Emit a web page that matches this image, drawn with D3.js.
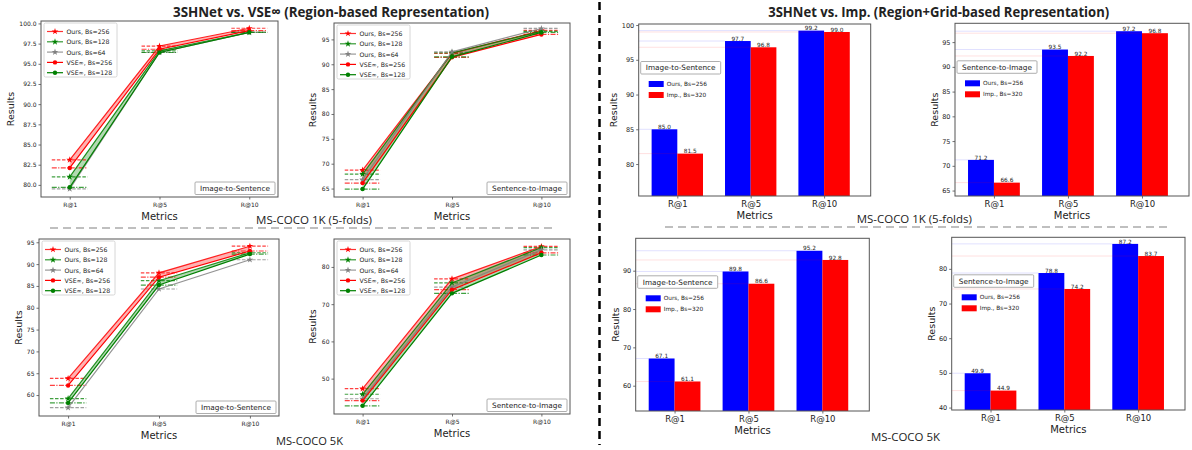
<!DOCTYPE html>
<html>
<head>
<meta charset="utf-8">
<script src="https://cdn.jsdelivr.net/npm/d3@7"></script>
<style>
  body { margin: 0; background: #fff; }
  text { font-family: "DejaVu Sans", sans-serif; fill: #222; }
  .ttl { font-family: "Open Sans", sans-serif; }
</style>
</head>
<body>
<svg id="fig" width="1192" height="450"></svg>
<script>
// ---- data ----
var metrics = ["R@1", "R@5", "R@10"];
var lineNames = ["Ours, Bs=256", "Ours, Bs=128", "Ours, Bs=64", "VSE\u221e, Bs=256", "VSE\u221e, Bs=128"];
var barNames = ["Ours, Bs=256", "Imp., Bs=320"];

// rows follow lineNames order
var lineI2S1k = [[83.1, 97.2, 99.4], [81.0, 96.6, 98.9], [79.5, 96.4, 98.9], [82.1, 96.8, 99.1], [79.7, 96.4, 98.9]];
var lineS2I1k = [[68.7, 92.2, 96.8], [67.9, 92.3, 96.6], [66.8, 92.5, 97.2], [66.1, 91.4, 96.0], [64.9, 91.5, 96.4]];
var lineI2S5k = [[63.8, 88.0, 94.1], [59.2, 86.2, 92.6], [57.1, 84.3, 91.0], [62.2, 87.0, 93.0], [58.2, 85.2, 92.3]];
var lineS2I5k = [[47.3, 76.8, 85.5], [45.8, 75.7, 85.2], [44.6, 74.6, 84.6], [44.1, 73.9, 83.8], [42.7, 72.9, 83.2]];

// rows follow barNames order
var barI2S1k = [[85.0, 97.7, 99.2], [81.5, 96.8, 99.0]];
var barS2I1k = [[71.2, 93.5, 97.2], [66.6, 92.2, 96.8]];
var barI2S5k = [[67.1, 89.8, 95.2], [61.1, 86.6, 92.8]];
var barS2I5k = [[49.9, 78.8, 87.2], [44.9, 74.2, 83.7]];

var ticksI2S1k = [80, 82.5, 85, 87.5, 90, 92.5, 95, 97.5, 100];
var ticksS2I1k = [65, 70, 75, 80, 85, 90, 95];
var ticksI2S5k = [60, 65, 70, 75, 80, 85, 90, 95];
var ticksS2I5k = [50, 60, 70, 80];
var ticksBarI2S1k = [80, 85, 90, 95, 100];
var ticksBarS2I1k = [65, 70, 75, 80, 85, 90, 95];
var ticksBarI2S5k = [60, 70, 80, 90];
var ticksBarS2I5k = [40, 50, 60, 70, 80];

// ---- styles ----
var lineColors = ["#ff0000", "#008000", "#808080", "#ff0000", "#008000"];
var barColors = ["#0000ff", "#ff0000"];

var svg = d3.select("#fig");

// shared axis drawing
function drawAxes(g, x, y, box, yTicks, yFmt, ytSize, xtSize, xtOff) {
  var ya = g.append("g").attr("transform", "translate(" + box.x0 + ",0)")
    .call(d3.axisLeft(y).tickValues(yTicks).tickFormat(yFmt).tickSize(2.5).tickPadding(2));
  ya.select(".domain").remove();
  ya.selectAll("line").attr("stroke", "#333").attr("stroke-width", 0.7);
  ya.selectAll("text").style("font-size", ytSize + "px").attr("fill", "#222");

  var xa = g.append("g").attr("transform", "translate(0," + box.y1 + ")")
    .call(d3.axisBottom(x).tickValues([0, 1, 2]).tickFormat(function(i) { return metrics[i]; })
      .tickSize(2.5).tickPadding(xtOff));
  xa.select(".domain").remove();
  xa.selectAll("line").attr("stroke", "#333").attr("stroke-width", 0.7);
  xa.selectAll("text").style("font-size", xtSize + "px").attr("fill", "#222");

  g.append("rect")
    .attr("x", box.x0).attr("y", box.y0)
    .attr("width", box.x1 - box.x0).attr("height", box.y1 - box.y0)
    .attr("fill", "none").attr("stroke", "#555").attr("stroke-width", 1);

  g.append("text")
    .attr("transform", "translate(" + box.ylab + "," + ((box.y0 + box.y1) / 2) + ") rotate(-90)")
    .attr("text-anchor", "middle").attr("dominant-baseline", "central")
    .style("font-size", "9.5px").text("Results");
  g.append("text")
    .attr("x", (box.x0 + box.x1) / 2).attr("y", box.y1 + 22.5)
    .attr("text-anchor", "middle").style("font-size", "10px").text("Metrics");
}

function tagBox(g, bx, by, label) {
  g.append("rect").attr("x", bx).attr("y", by).attr("width", 80).attr("height", 12.5)
    .attr("fill", "#fff").attr("stroke", "#999").attr("stroke-width", 0.8).attr("rx", 1);
  g.append("text").attr("x", bx + 40).attr("y", by + 6.4)
    .attr("text-anchor", "middle").attr("dominant-baseline", "central")
    .style("font-size", "7.3px").text(label);
}

function starPath(size) { return d3.symbol().type(d3.symbolStar).size(size)(); }

// line panel: Ours vs VSE with shaded bands
function linePanel(box, data, yTicks, yFmt, label) {
  var g = svg.append("g");
  var x = d3.scaleLinear().domain([-0.32, 2.32]).range([box.x0, box.x1]);
  var y = d3.scaleLinear().domain(box.dom).range([box.y1, box.y0]);

  // bands between Ours and VSE of same batch size
  [[0, 3], [1, 4]].forEach(function(p) {
    var pts = [0, 1, 2].map(function(i) { return [data[p[0]][i], data[p[1]][i]]; });
    g.append("path").datum(pts)
      .attr("d", d3.area().x(function(d, i) { return x(i); })
        .y0(function(d) { return y(d[0]); }).y1(function(d) { return y(d[1]); }))
      .attr("fill", lineColors[p[0]]).attr("fill-opacity", 0.3);
  });

  // short reference dashes at every point
  data.forEach(function(s, k) {
    s.forEach(function(v, i) {
      g.append("line")
        .attr("x1", x(i - 0.2)).attr("x2", x(i + 0.2))
        .attr("y1", y(v)).attr("y2", y(v))
        .attr("stroke", lineColors[k]).attr("stroke-width", 1.2).attr("stroke-opacity", 0.75)
        .attr("stroke-dasharray", k < 3 ? "3.5,1.6" : "5,1.4,1.2,1.4");
    });
  });

  var line = d3.line().x(function(d, i) { return x(i); }).y(function(d) { return y(d); });
  data.forEach(function(s, k) {
    g.append("path").datum(s).attr("d", line)
      .attr("fill", "none").attr("stroke", lineColors[k]).attr("stroke-width", 1.2)
      .attr("stroke-opacity", k < 3 ? 0.85 : 1);
    s.forEach(function(v, i) {
      if (k < 3) {
        g.append("path").attr("d", starPath(14))
          .attr("transform", "translate(" + x(i) + "," + y(v) + ")")
          .attr("fill", lineColors[k]);
      } else {
        g.append("circle").attr("cx", x(i)).attr("cy", y(v)).attr("r", 2.2)
          .attr("fill", lineColors[k]);
      }
    });
  });

  drawAxes(g, x, y, box, yTicks, yFmt, 6, 6, 3);

  // legend
  var lx = box.x0 + 3, ly = box.y0 + 2;
  g.append("rect").attr("x", lx).attr("y", ly).attr("width", 73).attr("height", 54)
    .attr("fill", "#fff").attr("fill-opacity", 0.85).attr("stroke", "#ccc").attr("stroke-width", 0.8).attr("rx", 1.5);
  lineNames.forEach(function(n, k) {
    var yy = ly + 8.5 + k * 10.3;
    g.append("line").attr("x1", lx + 3).attr("x2", lx + 19).attr("y1", yy).attr("y2", yy)
      .attr("stroke", lineColors[k]).attr("stroke-width", 1.2).attr("stroke-opacity", k < 3 ? 0.8 : 1);
    if (k < 3) {
      g.append("path").attr("d", starPath(14)).attr("transform", "translate(" + (lx + 11) + "," + yy + ")")
        .attr("fill", lineColors[k]);
    } else {
      g.append("circle").attr("cx", lx + 11).attr("cy", yy).attr("r", 2.2).attr("fill", lineColors[k]);
    }
    g.append("text").attr("x", lx + 22.5).attr("y", yy).attr("dominant-baseline", "central")
      .style("font-size", "6.2px").text(n);
  });

  tagBox(g, box.x1 - 83, box.y1 - 15, label);
}

// bar panel: Ours vs Imp.
function barPanel(box, data, yTicks, label) {
  var g = svg.append("g");
  var x = d3.scaleLinear().domain([-0.526, 2.635]).range([box.x0, box.x1]);
  var y = d3.scaleLinear().domain(box.dom).range([box.y1, box.y0]);
  var w = 0.35;

  data.forEach(function(s, k) {
    s.forEach(function(v, i) {
      var left = i - w + k * w;
      // faint guide from the axis to the bar
      g.append("line").attr("x1", box.x0).attr("x2", x(left))
        .attr("y1", y(v)).attr("y2", y(v))
        .attr("stroke", barColors[k]).attr("stroke-opacity", 0.12).attr("stroke-width", 1);
      g.append("rect").attr("x", x(left)).attr("y", y(v))
        .attr("width", x(w) - x(0)).attr("height", box.y1 - y(v))
        .attr("fill", barColors[k]);
      g.append("text").attr("x", x(left + w / 2)).attr("y", y(v) - 0.3)
        .attr("text-anchor", "middle").style("font-size", "5.8px").text(v.toFixed(1));
    });
  });

  drawAxes(g, x, y, box, yTicks, d3.format("d"), 6.5, 8.5, 2.5);

  tagBox(g, box.x0 + 2, box.y0 + 37.5, label);
  barNames.forEach(function(n, k) {
    var yy = box.y0 + 60 + k * 11;
    g.append("rect").attr("x", box.x0 + 10).attr("y", yy - 3).attr("width", 15).attr("height", 6)
      .attr("fill", barColors[k]);
    g.append("text").attr("x", box.x0 + 28).attr("y", yy).attr("dominant-baseline", "central")
      .style("font-size", "5.8px").text(n);
  });
}

// ---- layout ----
linePanel({x0: 41, x1: 278, y0: 21, y1: 197, dom: [78.5, 100.3], ylab: 10}, lineI2S1k, ticksI2S1k, d3.format(".1f"), "Image-to-Sentence");
linePanel({x0: 334, x1: 570, y0: 23, y1: 197, dom: [63.3, 98.3], ylab: 312.7}, lineS2I1k, ticksS2I1k, d3.format("d"), "Sentence-to-Image");
linePanel({x0: 39, x1: 279, y0: 239, y1: 416, dom: [55.2, 95.75], ylab: 18.3}, lineI2S5k, ticksI2S5k, d3.format("d"), "Image-to-Sentence");
linePanel({x0: 334, x1: 570, y0: 239, y1: 414, dom: [40.5, 87.5], ylab: 312.7}, lineS2I5k, ticksS2I5k, d3.format("d"), "Sentence-to-Image");

barPanel({x0: 638.7, x1: 870.7, y0: 24, y1: 196, dom: [75.4, 100.15], ylab: 613.3}, barI2S1k, ticksBarI2S1k, "Image-to-Sentence");
barPanel({x0: 955, x1: 1189, y0: 23.3, y1: 196, dom: [63.9, 98.8], ylab: 934.3}, barS2I1k, ticksBarS2I1k, "Sentence-to-Image");
barPanel({x0: 635.7, x1: 869.3, y0: 238.3, y1: 411, dom: [53.4, 98.45], ylab: 615}, barI2S5k, ticksBarI2S5k, "Image-to-Sentence");
barPanel({x0: 951.7, x1: 1185, y0: 237.3, y1: 410, dom: [39.3, 89.1], ylab: 931}, barS2I5k, ticksBarS2I5k, "Sentence-to-Image");

// titles, dataset captions, separators
function caption(x, y, txt, len, size, bold) {
  svg.append("text").attr("class", "ttl").attr("x", x).attr("y", y)
    .attr("text-anchor", "middle").attr("textLength", len).attr("lengthAdjust", "spacingAndGlyphs")
    .style("font-size", size + "px").style("font-weight", bold ? "bold" : "normal")
    .text(txt);
}
caption(331, 16.7, "3SHNet vs. VSE\u221e (Region-based Representation)", 316, 15, true);
caption(938.7, 16.7, "3SHNet vs. Imp. (Region+Grid-based Representation)", 341, 15, true);
caption(314, 223.5, "MS-COCO 1K (5-folds)", 116, 11.5, false);
caption(914.3, 223, "MS-COCO 1K (5-folds)", 115, 11.5, false);
caption(309.5, 444.5, "MS-COCO 5K", 67, 11.5, false);
caption(905.5, 441, "MS-COCO 5K", 69, 11.5, false);

svg.append("line").attr("x1", 50).attr("x2", 553).attr("y1", 228).attr("y2", 228)
  .attr("stroke", "#aaa").attr("stroke-width", 1.5).attr("stroke-dasharray", "8,5");
svg.append("line").attr("x1", 665).attr("x2", 1168).attr("y1", 227).attr("y2", 227)
  .attr("stroke", "#aaa").attr("stroke-width", 1.5).attr("stroke-dasharray", "8,5");
svg.append("line").attr("x1", 599.5).attr("x2", 599.5).attr("y1", 2).attr("y2", 445)
  .attr("stroke", "#000").attr("stroke-width", 2.5).attr("stroke-dasharray", "8,5");
</script>
</body>
</html>
